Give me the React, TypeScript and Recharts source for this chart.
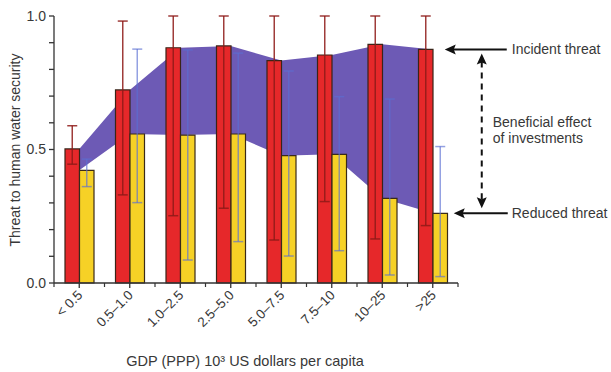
import React from 'react';
import {
  ComposedChart,
  Bar,
  Area,
  XAxis,
  YAxis,
  ErrorBar,
  ReferenceDot,
  ReferenceLine,
} from 'recharts';

// ---- data ----
const categories = ['< 0.5', '0.5–1.0', '1.0–2.5', '2.5–5.0', '5.0–7.5', '7.5–10', '10–25', '>25'];
const incidentThreat = [0.502, 0.723, 0.881, 0.888, 0.833, 0.854, 0.894, 0.875];
const incidentLow = [0.445, 0.33, 0.252, 0.28, 0.161, 0.305, 0.165, 0.215];
const incidentHigh = [0.589, 0.981, 1.0, 1.0, 1.0, 1.0, 1.0, 1.0];
const reducedThreat = [0.422, 0.558, 0.554, 0.558, 0.477, 0.482, 0.317, 0.261];
const reducedLow = [0.361, 0.301, 0.086, 0.155, 0.101, 0.121, 0.03, 0.024];
const reducedHigh = [0.464, 0.876, 0.873, 0.861, 0.794, 0.698, 0.689, 0.511];
const yTicks = [0, 0.1, 0.2, 0.3, 0.4, 0.5, 0.6, 0.7, 0.8, 0.9, 1.0];

const data = categories.map((cat, i) => ({
  cat,
  incident: incidentThreat[i],
  reduced: reducedThreat[i],
  incidentErr: [incidentThreat[i] - incidentLow[i], incidentHigh[i] - incidentThreat[i]],
  reducedErr: [reducedThreat[i] - reducedLow[i], reducedHigh[i] - reducedThreat[i]],
  band: [reducedThreat[i], incidentThreat[i]],
}));

const FONT = '"Liberation Sans", Arial, Helvetica, sans-serif';
const TEXT = '#383838';
const AXIS = '#333';
const TICK_SIZE = 5;
const TICK_MARGIN = 2;
const HALF_BAND = 25.25;

const XTick = (props: any) => {
  const { x, y, payload, index } = props;
  const axisY = y - TICK_SIZE - TICK_MARGIN;
  return (
    <g>
      <line x1={x - HALF_BAND} y1={axisY} x2={x - HALF_BAND} y2={axisY + 4} stroke={AXIS} strokeWidth={1.2} />
      {index === categories.length - 1 && (
        <line x1={x + HALF_BAND} y1={axisY} x2={x + HALF_BAND} y2={axisY + 4} stroke={AXIS} strokeWidth={1.2} />
      )}
      <text
        x={x + 4}
        y={y + 6}
        transform={`rotate(-45, ${x + 4}, ${y + 6})`}
        textAnchor="end"
        fontFamily={FONT}
        fontSize={13.5}
        fill={TEXT}
      >
        {payload.value}
      </text>
    </g>
  );
};

const IncidentShape = (props: any) => {
  const { cx, cy } = props;
  return (
    <g>
      <line x1={cx + 20} y1={cy} x2={cx + 74} y2={cy} stroke="#111" strokeWidth={2} />
      <polygon points={`${cx + 12},${cy} ${cx + 23},${cy - 5} ${cx + 21},${cy} ${cx + 23},${cy + 5}`} fill="#111" />
      <text x={cx + 79} y={cy + 5} fontFamily={FONT} fontSize={14} fill={TEXT}>
        Incident threat
      </text>
    </g>
  );
};

const ReducedShape = (props: any) => {
  const { cx, cy } = props;
  return (
    <g>
      <line x1={cx + 28} y1={cy} x2={cx + 75} y2={cy} stroke="#111" strokeWidth={2} />
      <polygon points={`${cx + 21},${cy} ${cx + 32},${cy - 5} ${cx + 30},${cy} ${cx + 32},${cy + 5}`} fill="#111" />
      <text x={cx + 79} y={cy + 5} fontFamily={FONT} fontSize={14} fill={TEXT}>
        Reduced threat
      </text>
    </g>
  );
};

const BenefitShape = (props: any) => {
  const { x1, y1, y2 } = props;
  const x = x1 + 49;
  const top = Math.min(y1, y2) + 4;
  const bot = Math.max(y1, y2) - 5;
  const mid = (top + bot) / 2;
  return (
    <g>
      <line x1={x} y1={top + 8} x2={x} y2={bot - 8} stroke="#111" strokeWidth={2} strokeDasharray="6 5" />
      <polygon points={`${x},${top} ${x - 5},${top + 11} ${x},${top + 9} ${x + 5},${top + 11}`} fill="#111" />
      <polygon points={`${x},${bot} ${x - 5},${bot - 11} ${x},${bot - 9} ${x + 5},${bot - 11}`} fill="#111" />
      <text x={x + 11} y={mid - 4} fontFamily={FONT} fontSize={14} fill={TEXT}>
        Beneficial effect
      </text>
      <text x={x + 11} y={mid + 12} fontFamily={FONT} fontSize={14} fill={TEXT}>
        of investments
      </text>
    </g>
  );
};

export default function App() {
  return (
    <div style={{ position: 'absolute', left: 0, top: 0, width: 611, height: 372, background: '#fff' }}>
      <ComposedChart
        width={611}
        height={372}
        data={data}
        margin={{ top: 16, right: 153, bottom: 29, left: 8 }}
        barGap={0}
      >
        <XAxis
          dataKey="cat"
          type="category"
          height={60}
          stroke={AXIS}
          strokeWidth={1.3}
          tickSize={TICK_SIZE}
          tickMargin={TICK_MARGIN}
          tick={<XTick />}
          interval={0}
          label={{
            content: () => (
              <text x={245} y={366} textAnchor="middle" fontFamily={FONT} fontSize={14.5} fill={TEXT}>
                GDP (PPP) 10³ US dollars per capita
              </text>
            ),
          }}
        />
        <YAxis
          type="number"
          domain={[0, 1]}
          ticks={yTicks}
          interval={0}
          width={46}
          stroke={AXIS}
          strokeWidth={1.3}
          tickSize={5}
          tickMargin={3}
          tick={{ fontFamily: FONT, fontSize: 14, fill: TEXT }}
          tickFormatter={(v: number) => (Math.round(v * 10) % 5 === 0 ? v.toFixed(1) : '')}
          label={{
            content: () => (
              <text
                x={15}
                y={150}
                transform="rotate(-90, 15, 150)"
                textAnchor="middle"
                dominantBaseline="central"
                fontFamily={FONT}
                fontSize={14}
                fill={TEXT}
              >
                Threat to human water security
              </text>
            ),
          }}
        />
        <Area
          dataKey="band"
          type="linear"
          stroke="none"
          fill="#6d5ab5"
          fillOpacity={1}
          isAnimationActive={false}
          activeDot={false}
          dot={false}
        />
        <Bar dataKey="incident" fill="#e6282a" stroke="#3a2418" strokeWidth={1.2} barSize={14.5} isAnimationActive={false}>
          <ErrorBar dataKey="incidentErr" width={5} stroke="#8e1a18" strokeWidth={1.5} strokeOpacity={0.85} />
        </Bar>
        <Bar dataKey="reduced" fill="#f6d126" stroke="#3a2a18" strokeWidth={1.2} barSize={14.5} isAnimationActive={false}>
          <ErrorBar dataKey="reducedErr" width={5} stroke="#5a6ed2" strokeWidth={1.5} strokeOpacity={0.65} />
        </Bar>
        <ReferenceDot
          x={categories[7]}
          y={incidentThreat[7]}
          ifOverflow="visible"
          shape={<IncidentShape />}
        />
        <ReferenceDot
          x={categories[7]}
          y={reducedThreat[7]}
          ifOverflow="visible"
          shape={<ReducedShape />}
        />
        <ReferenceLine
          segment={[
            { x: categories[7], y: incidentThreat[7] },
            { x: categories[7], y: reducedThreat[7] },
          ]}
          ifOverflow="visible"
          shape={(p: any) => <BenefitShape {...p} />}
        />
      </ComposedChart>
    </div>
  );
}
